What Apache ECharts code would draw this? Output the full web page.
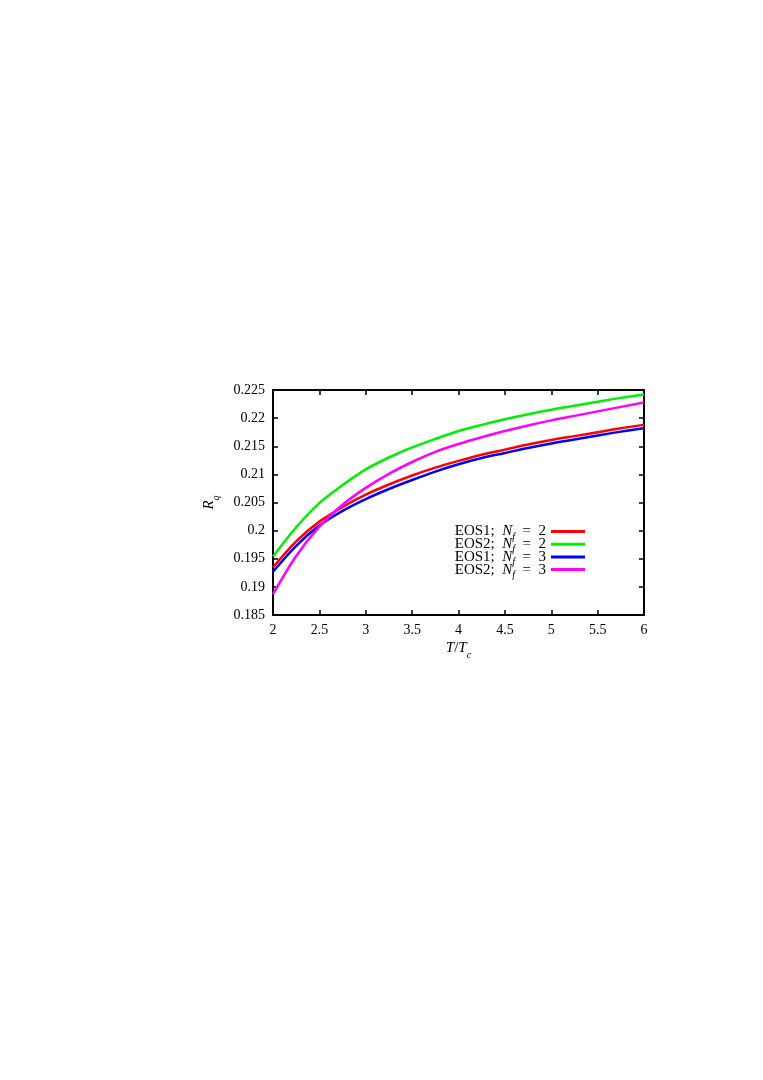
<!DOCTYPE html>
<html>
<head>
<meta charset="utf-8">
<script src="https://cdn.jsdelivr.net/npm/echarts@6/dist/echarts.min.js"></script>
<style>
  body { margin: 0; background: #fff; }
  #chart { width: 763px; height: 1080px; }
</style>
</head>
<body>
<div id="chart"></div>
<script>
  // T/Tc sample points and R_q values
  const tOverTc = [2, 2.25, 2.5, 2.75, 3, 3.25, 3.5, 3.75, 4, 4.25, 4.5, 4.75, 5, 5.25, 5.5, 5.75, 6];
  const eos1Nf2 = [0.1935, 0.1981, 0.2016, 0.2042, 0.2064, 0.2082, 0.2098, 0.2112, 0.2124, 0.2135, 0.2144, 0.2153, 0.2161, 0.2168, 0.2175, 0.2182, 0.2188];
  const eos2Nf2 = [0.1954, 0.2006, 0.2049, 0.2081, 0.2109, 0.2130, 0.2148, 0.2163, 0.2177, 0.2188, 0.2198, 0.2207, 0.2215, 0.2222, 0.2229, 0.2236, 0.2242];
  const eos1Nf3 = [0.1927, 0.1973, 0.2009, 0.2035, 0.2056, 0.2074, 0.2090, 0.2105, 0.2118, 0.2129, 0.2138, 0.2147, 0.2155, 0.2162, 0.2169, 0.2176, 0.2182];
  const eos2Nf3 = [0.1887, 0.1955, 0.2007, 0.2046, 0.2076, 0.2101, 0.2122, 0.2140, 0.2154, 0.2166, 0.2177, 0.2187, 0.2196, 0.2204, 0.2212, 0.2220, 0.2228];

  const seriesNames = ['EOS1; Nf = 2', 'EOS2; Nf = 2', 'EOS1; Nf = 3', 'EOS2; Nf = 3'];
  const seriesData = [eos1Nf2, eos2Nf2, eos1Nf3, eos2Nf3];
  const seriesColors = ['#ff0000', '#00f000', '#0000ff', '#ff00ff'];

  const font = 'Liberation Serif';

  const chart = echarts.init(document.getElementById('chart'));

  const tickStyle = { inside: true, length: 5, lineStyle: { color: '#000', width: 1.5 } };
  const lineStyle = { lineStyle: { color: '#000', width: 2 } };

  const option = {
    backgroundColor: '#fff',
    animation: false,
    grid: { left: 273, right: 119, top: 390, bottom: 465 },
    legend: {
      orient: 'vertical',
      right: 173,
      top: 519,
      align: 'right',
      icon: 'rect',
      itemWidth: 34,
      itemHeight: 3,
      itemGap: -5.3,
      data: seriesNames,
      formatter: function (name) {
        const parts = name.split('; Nf = ');
        return '{t|' + parts[0] + ';  }{i|N}{s|f}{t|  =  ' + parts[1] + '}';
      },
      textStyle: {
        fontFamily: font,
        fontSize: 15,
        color: '#000',
        lineHeight: 13,
        rich: {
          t: { fontFamily: font, fontSize: 15, color: '#000', lineHeight: 13 },
          i: { fontFamily: font, fontSize: 15, fontStyle: 'italic', color: '#000', lineHeight: 13 },
          s: { fontFamily: font, fontSize: 10, fontStyle: 'italic', color: '#000', lineHeight: 13, verticalAlign: 'bottom', padding: [0, 0, -4, 0] }
        }
      }
    },
    xAxis: [{
      type: 'value',
      min: 2,
      max: 6,
      interval: 0.5,
      name: '{i|T}{t|/}{i|T}{s|c}',
      nameLocation: 'middle',
      nameGap: 26,
      nameTextStyle: {
        rich: {
          t: { fontFamily: font, fontSize: 15, color: '#000' },
          i: { fontFamily: font, fontSize: 15, fontStyle: 'italic', color: '#000' },
          s: { fontFamily: font, fontSize: 10, fontStyle: 'italic', color: '#000', verticalAlign: 'bottom', padding: [0, 0, -4, 0] }
        }
      },
      axisLine: lineStyle,
      axisTick: tickStyle,
      splitLine: { show: false },
      axisLabel: { fontFamily: font, fontSize: 14, color: '#000', margin: 8 }
    }, {
      type: 'value',
      position: 'top',
      min: 2,
      max: 6,
      interval: 0.5,
      axisLine: lineStyle,
      axisTick: tickStyle,
      splitLine: { show: false },
      axisLabel: { show: false }
    }],
    yAxis: [{
      type: 'value',
      min: 0.185,
      max: 0.225,
      interval: 0.005,
      name: '{i|R}{s|q}',
      nameLocation: 'middle',
      nameGap: 56,
      nameRotate: 90,
      nameTextStyle: {
        rich: {
          i: { fontFamily: font, fontSize: 15, fontStyle: 'italic', color: '#000' },
          s: { fontFamily: font, fontSize: 10, fontStyle: 'italic', color: '#000', verticalAlign: 'bottom', padding: [0, 0, -4, 0] }
        }
      },
      axisLine: lineStyle,
      axisTick: tickStyle,
      splitLine: { show: false },
      axisLabel: { fontFamily: font, fontSize: 14, color: '#000', margin: 8 }
    }, {
      type: 'value',
      position: 'right',
      min: 0.185,
      max: 0.225,
      interval: 0.005,
      axisLine: lineStyle,
      axisTick: tickStyle,
      splitLine: { show: false },
      axisLabel: { show: false }
    }],
    series: seriesNames.map(function (name, k) {
      return {
        name: name,
        type: 'line',
        xAxisIndex: 0,
        yAxisIndex: 0,
        smooth: 0.3,
        showSymbol: false,
        color: seriesColors[k],
        lineStyle: { color: seriesColors[k], width: 2.5 },
        data: tOverTc.map(function (t, i) { return [t, seriesData[k][i]]; })
      };
    })
  };

  chart.setOption(option);
</script>
</body>
</html>
